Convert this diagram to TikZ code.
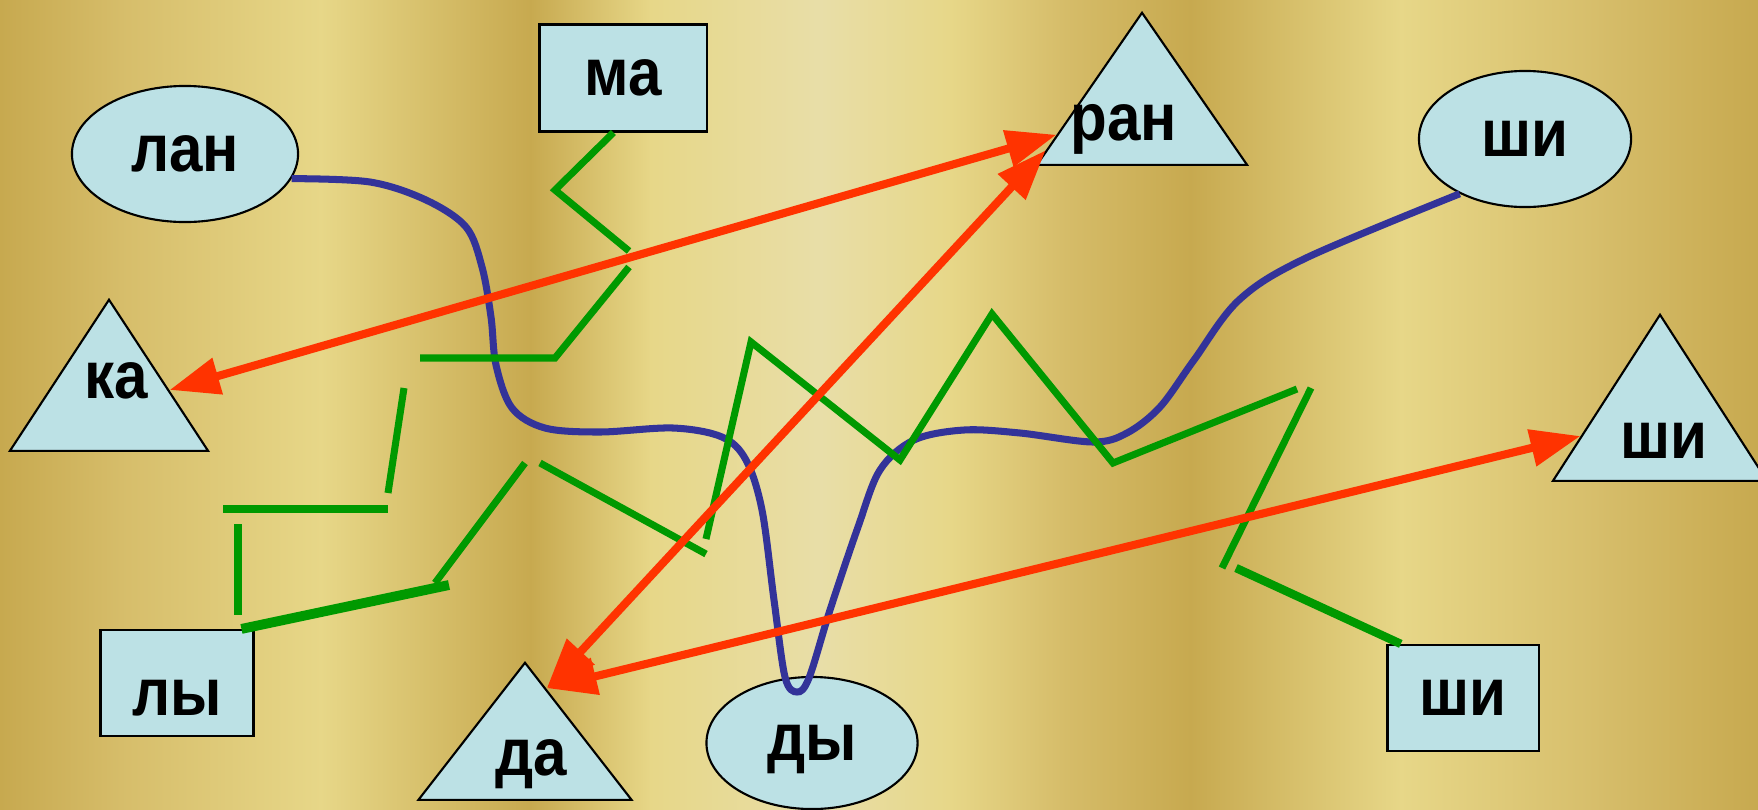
\documentclass[tikz,border=0pt]{standalone}
\usepackage{fontspec}
\newfontfamily\wordfont[FakeStretch=0.9]{Liberation Sans}
\usetikzlibrary{shapes.geometric,arrows.meta,calc}
\definecolor{goldD}{RGB}{199,169,79}
\definecolor{goldM}{RGB}{214,189,106}
\definecolor{goldL}{RGB}{231,215,136}
\definecolor{goldP}{RGB}{232,222,168}
\definecolor{cardblue}{RGB}{188,225,229}
\definecolor{mazegreen}{RGB}{0,153,0}
\definecolor{wordred}{RGB}{255,51,0}
\definecolor{navy}{RGB}{51,51,153}
\tikzset{
  word/.style={font=\wordfont\bfseries\fontsize{19}{19}\selectfont, text=black, inner sep=0pt},
  oval/.style={ellipse, draw=black, line width=0.6pt, fill=cardblue, word, text depth=0pt},
  card/.style={rectangle, draw=black, line width=0.6pt, fill=cardblue, word, text depth=0pt},
  tri/.style={isosceles triangle, isosceles triangle stretches, shape border rotate=90,
              draw=black, line width=0.6pt, fill=cardblue, anchor=apex, inner sep=0pt},
  gline/.style={draw=mazegreen, line width=2pt},
  bline/.style={draw=navy, line width=2pt},
  arr/.style={{Triangle[length=0.5cm,width=0.36cm]}-{Triangle[length=0.5cm,width=0.36cm]},
              draw=wordred, line width=2.3pt},
}

\begin{document}
\begin{tikzpicture}[x=0.01cm, y=-0.01cm]
  \useasboundingbox (0,0) rectangle (1758,809);
  \clip (0,0) rectangle (1758,809);

  % gold background
  \foreach \xa/\xb/\ca/\cb in {0/120/goldD/goldM, 120/320/goldM/goldL, 320/530/goldL/goldD,
      530/650/goldD/goldL, 650/820/goldL/goldP, 820/950/goldP/goldL, 950/1060/goldL/goldM,
      1060/1190/goldM/goldD, 1190/1400/goldD/goldL, 1400/1600/goldL/goldM, 1600/1758/goldM/goldD}
    \fill[left color=\ca, right color=\cb] (\xa,0) rectangle (\xb+2,809);

  % syllables
  \node[oval, minimum width=2.26cm, minimum height=1.36cm] (lan) at (185,154) {лан};
  \node[card, minimum width=1.67cm, minimum height=1.07cm] (ma) at (623,78) {ма};
  \node[tri, minimum width=2.1cm, minimum height=1.52cm] (ranT) at (1142,10) {};
  \node[word, anchor=base] (ran) at (1124,140) {ран};
  \node[oval, minimum width=2.12cm, minimum height=1.36cm] (shiO) at (1525,139) {ши};
  \node[tri, minimum width=1.98cm, minimum height=1.51cm] (kaT) at (109,297) {};
  \node[word, anchor=base] (ka) at (116,398) {ка};
  \node[tri, minimum width=2.14cm, minimum height=1.66cm] (shiT) at (1660,312) {};
  \node[word, anchor=base] (shiTw) at (1664,458) {ши};
  \node[card, minimum width=1.53cm, minimum height=1.06cm, text height=0.65cm] (ly) at (177,683) {лы};
  \node[tri, minimum width=2.13cm, minimum height=1.37cm] (daT) at (525,660) {};
  \node[word, anchor=base] (da) at (531,775) {да};
  \node[oval, minimum width=2.11cm, minimum height=1.32cm] (dy) at (812,743) {ды};
  \node[card, minimum width=1.51cm, minimum height=1.06cm] (shiR) at (1463,698) {ши};

  % blue word
  \draw[bline] plot[smooth, tension=0.55] coordinates {(lan.-13) (370,182) (426,200) (466,227)
      (482,267) (491,317) (496,365) (512,408) (545,428) (600,432) (673,428) (722,437) (746,460)
      (762,510) (774,600) (785,677) (797,692) (809,678) (830,610) (858,527) (880,470) (914,440)
      (964,430) (1020,433) (1093,442) (1127,433) (1160,407) (1194,360) (1239,300) (1306,258)
      (shiO.220)};

  % green maze
  \draw[gline] (ma.-100) -- (555,190) -- (629,251);
  \draw[gline] (629,267) -- (555,358) -- (420,358);
  \draw[gline] (404,388) -- (388,493);
  \draw[gline] (223,509) -- (388,509);
  \draw[gline] (238,524) -- (238,615);
  \draw[gline, line width=2.8pt] (ly.40) -- (449,585);
  \draw[gline] (435,583) -- (525,463);
  \draw[gline] (540,463) -- (706,554);
  \draw[gline] (706,539) -- (751,342) -- (900,460) -- (992,314) -- (1113,463) -- (1297,389);
  \draw[gline] (1311,388) -- (1222,568);
  \draw[gline, line width=2.4pt] (1236,568) -- (shiR.139);

  % red arrows
  \draw[arr] ($(kaT.apex)!0.6!(kaT.right corner)$) -- ($(ranT.apex)!0.8!(ranT.left corner)$);
  \draw[arr] ($(daT.apex)!0.2!(daT.right corner)$) -- ($(ranT.apex)!0.9!(ranT.left corner)$);
  \draw[arr] ($(daT.apex)!0.2!(daT.right corner)$) -- ($(shiT.apex)!0.73!(shiT.left corner)$);
\end{tikzpicture}
\end{document}
